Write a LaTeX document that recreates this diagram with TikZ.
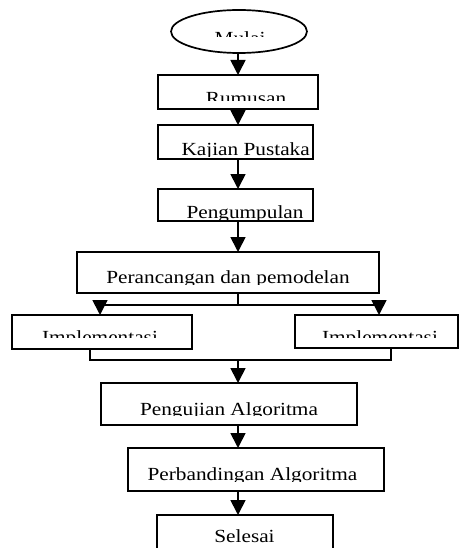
\documentclass[tikz,border=0pt]{standalone}
\usepackage{fontspec}
\setmainfont{Liberation Serif}
\newfontfamily\boxfont[FakeStretch=1.15]{Liberation Serif}
\usetikzlibrary{arrows.meta,shapes.geometric}
\begin{document}
\begin{tikzpicture}[x=1pt,y=1pt,
  boxshape/.style={draw,line width=1.7pt,rectangle,inner sep=0pt,outer sep=0pt},
  boxtext/.style={font=\boxfont\fontsize{18.5}{20}\selectfont,anchor=base,inner sep=0pt,outer sep=0pt},
  arr/.style={line width=1.7pt,-{Triangle[length=15pt,width=15pt]}},
  conn/.style={line width=1.7pt}]
\useasboundingbox (0,0) rectangle (459,-548);
\coordinate (spine) at (238,0);

% shapes
\node[draw,ellipse,line width=1.7pt,minimum width=136pt,minimum height=43pt,inner sep=0pt] (mulai) at (239,-31.5) {};
\node[boxshape,minimum width=160pt,minimum height=34pt] (rumusan) at (238,-92) {};
\node[boxshape,minimum width=155pt,minimum height=34pt] (kajian) at (235.5,-142) {};
\node[boxshape,minimum width=155pt,minimum height=32pt] (kumpul) at (235.5,-205) {};
\node[boxshape,minimum width=302pt,minimum height=41pt] (rancang) at (228,-272.5) {};
\node[boxshape,minimum width=180pt,minimum height=34pt] (implL) at (102,-332) {};
\node[boxshape,minimum width=163pt,minimum height=33pt] (implR) at (376.5,-331.5) {};
\node[boxshape,minimum width=256pt,minimum height=42pt] (uji) at (229,-404) {};
\node[boxshape,minimum width=256pt,minimum height=43pt] (banding) at (256,-469.5) {};
\node[boxshape,minimum width=176pt,minimum height=50pt] (selesai) at (245,-540) {};

% clipped texts
\begin{scope}\clip (180,-20) rectangle (300,-36.7);
  \node[boxtext] (tmulai) at (240,-44.5) {Mulai};\end{scope}
\begin{scope}\clip (158,-75) rectangle (318,-100.7);
  \node[boxtext] (trumusan) at (246,-104.9) {Rumusan};\end{scope}
\begin{scope}\clip (158,-125) rectangle (313,-156.5);
  \node[boxtext] (tkajian) at (245.7,-155.5) {Kajian Pustaka};\end{scope}
\begin{scope}\clip (158,-189) rectangle (313,-219.5);
  \node[boxtext] (tkumpul) at (245,-218.9) {Pengumpulan};\end{scope}
\begin{scope}\clip (77,-252) rectangle (379,-284.5);
  \node[boxtext] (trancang) at (228,-283.9) {Perancangan dan pemodelan};\end{scope}
\begin{scope}\clip (12,-315) rectangle (192,-337.7);
  \node[boxtext] (timplL) at (100,-343.9) {Implementasi};\end{scope}
\begin{scope}\clip (295,-315) rectangle (458,-337.7);
  \node[boxtext] (timplR) at (380,-343.9) {Implementasi};\end{scope}
\begin{scope}\clip (101,-383) rectangle (357,-415.5);
  \node[boxtext] (tuji) at (229,-415.5) {Pengujian Algoritma};\end{scope}
\begin{scope}\clip (128,-448) rectangle (384,-481);
  \node[boxtext] (tbanding) at (252.5,-480.5) {Perbandingan Algoritma};\end{scope}
\begin{scope}\clip (157,-515) rectangle (333,-548);
  \node[boxtext] (tselesai) at (244.5,-542.9) {Selesai};\end{scope}

% connectors
\draw[arr] (mulai.south -| spine) -- (rumusan.north -| spine);
\draw[arr] (rumusan.south -| spine) -- (kajian.north -| spine);
\draw[arr] (kajian.south -| spine) -- (kumpul.north -| spine);
\draw[arr] (kumpul.south -| spine) -- (rancang.north -| spine);

\coordinate (splitL) at (100,-305);
\coordinate (splitR) at (379,-305);
\draw[conn] (rancang.south -| spine) -- (spine |- splitL);
\draw[conn] (splitL) -- (splitR);
\draw[arr] (splitL) -- (implL.north -| splitL);
\draw[arr] (splitR) -- (implR.north -| splitR);

\coordinate (joinL) at (90,-360);
\coordinate (joinR) at (391,-360);
\draw[conn] (implL.south -| joinL) -- (joinL) -- (joinR) -- (implR.south -| joinR);
\draw[arr] (spine |- joinL) -- (uji.north -| spine);
\draw[arr] (uji.south -| spine) -- (banding.north -| spine);
\draw[arr] (banding.south -| spine) -- (selesai.north -| spine);
\end{tikzpicture}
\end{document}
